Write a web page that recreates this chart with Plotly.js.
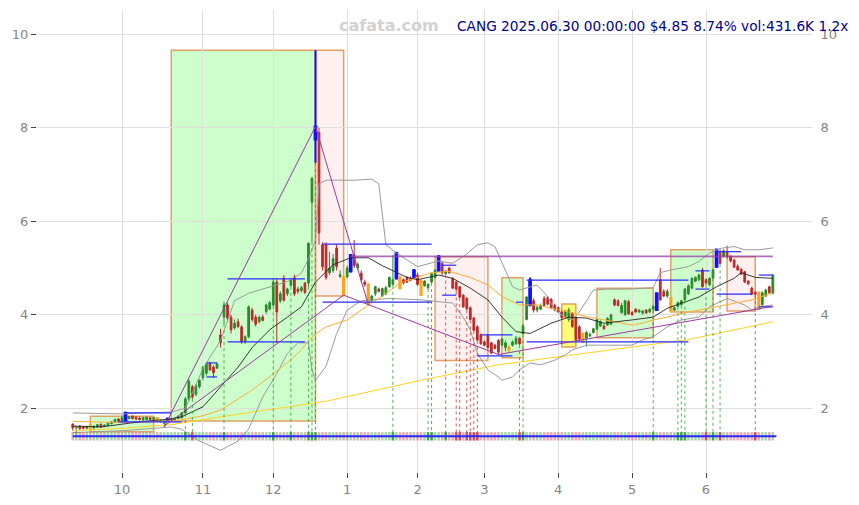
<!DOCTYPE html>
<html><head><meta charset="utf-8">
<script src="https://cdn.plot.ly/plotly-3.0.1.min.js"></script>
<style>html,body{margin:0;padding:0;background:#fff}#chart{width:859px;height:505px}</style>
</head><body><div id="chart"></div>
<script>
// ---- daily candles (trading-day index 0 = 2024-09-11 ... 199 = 2025-06-30) ----
const openP = [
1.66,1.58,1.62,1.60,1.57,1.64,1.58,1.60,1.66,1.61,
1.63,1.67,1.70,1.77,1.72,1.73,1.78,1.83,1.81,1.79,
1.75,1.76,1.80,1.76,1.80,1.72,1.68,1.73,1.75,1.76,
1.78,1.80,1.90,2.20,2.46,2.30,2.46,2.66,2.75,2.96,
2.88,2.86,3.57,3.95,4.21,3.95,3.72,3.85,3.74,3.42,
3.53,4.10,3.95,3.85,3.95,4.07,4.12,4.21,4.70,4.30,
4.78,4.45,4.63,4.80,4.55,4.52,4.68,4.68,6.41,7.75,
7.90,5.50,5.50,4.90,4.95,5.43,4.82,4.81,4.81,4.93,
5.28,5.00,4.89,4.70,4.64,4.30,4.45,4.55,4.40,4.45,
4.60,4.65,4.78,4.81,4.75,4.80,4.78,4.80,4.85,4.73,
4.62,4.58,4.70,4.80,4.94,5.10,4.88,5.00,4.78,4.70,
4.60,4.42,4.35,4.15,3.93,3.74,3.57,3.42,3.56,3.40,
3.35,3.45,3.35,3.30,3.26,3.35,3.38,3.50,3.60,3.90,
4.21,4.30,4.10,4.12,4.35,4.37,4.33,4.20,4.15,4.06,
3.96,3.90,4.03,3.93,3.74,3.42,3.50,3.55,3.62,3.70,
3.76,3.76,3.78,3.80,4.32,4.30,4.05,4.00,4.28,4.05,
4.12,4.06,4.04,4.10,4.06,4.12,4.10,4.75,4.50,4.40,
4.36,4.10,4.18,4.22,4.32,4.45,4.57,4.72,4.75,4.96,
4.75,4.64,4.79,5.03,5.35,5.25,5.35,5.24,5.17,5.04,
4.97,4.92,4.72,4.57,4.48,4.48,4.22,4.40,4.60,4.46];
const highP = [
1.68,1.62,1.64,1.62,1.63,1.67,1.63,1.66,1.67,1.66,
1.70,1.72,1.78,1.79,1.85,1.93,1.84,1.85,1.83,1.82,
1.81,1.82,1.81,1.81,1.81,1.76,1.75,1.80,1.79,1.80,
1.84,1.92,2.24,2.62,2.50,2.52,2.62,2.90,2.98,3.00,
2.92,2.98,3.70,4.28,4.25,4.00,3.90,3.92,3.78,3.56,
4.20,4.15,4.00,3.98,4.00,4.24,4.30,4.78,4.78,4.50,
4.85,4.58,4.76,4.86,4.60,4.62,4.70,5.55,6.95,9.66,
8.00,5.55,5.55,5.35,5.30,5.50,4.95,4.84,5.05,5.30,
5.60,5.12,4.95,4.75,4.68,4.42,4.62,4.58,4.58,4.62,
4.82,5.28,5.35,4.84,4.78,4.83,4.82,4.98,4.90,4.76,
4.74,4.68,4.90,4.98,5.28,5.15,4.96,5.02,4.80,4.72,
4.62,4.44,4.38,4.18,3.96,3.78,3.60,3.45,3.58,3.42,
3.38,3.48,3.50,3.45,3.35,3.45,3.55,3.52,3.80,4.40,
4.80,4.35,4.20,4.24,4.40,4.40,4.36,4.24,4.18,4.08,
4.10,4.15,4.05,3.96,3.78,3.62,3.66,3.62,3.72,3.92,
3.88,3.80,3.95,4.02,4.35,4.33,4.25,4.32,4.32,4.08,
4.14,4.12,4.10,4.12,4.14,4.20,4.48,5.00,4.55,4.55,
4.38,4.18,4.28,4.32,4.58,4.65,4.80,4.82,4.88,5.00,
4.78,4.80,4.98,5.42,5.40,5.40,5.48,5.28,5.20,5.08,
5.00,4.94,4.74,4.60,4.50,4.50,4.50,4.56,4.62,4.87];
const lowP = [
1.52,1.44,1.54,1.55,1.55,1.50,1.56,1.58,1.58,1.60,
1.62,1.66,1.69,1.70,1.70,1.72,1.76,1.76,1.75,1.74,
1.74,1.75,1.75,1.75,1.70,1.69,1.60,1.72,1.74,1.75,
1.77,1.78,1.88,2.15,2.20,2.26,2.42,2.60,2.70,2.80,
2.65,2.84,3.30,3.80,3.85,3.60,3.68,3.72,3.38,3.38,
3.50,3.85,3.75,3.82,3.86,4.02,4.10,4.18,3.40,4.25,
4.28,4.40,4.60,4.40,4.45,4.48,4.44,4.60,5.55,7.25,
5.50,4.95,4.75,4.85,4.90,4.95,4.78,4.40,4.78,4.90,
5.00,4.95,4.70,4.60,4.20,4.28,4.40,4.48,4.38,4.42,
4.58,4.62,4.75,4.55,4.65,4.68,4.72,4.78,4.62,4.40,
4.60,4.55,4.68,4.78,4.92,4.85,4.86,4.88,4.55,4.50,
4.36,4.15,4.10,3.88,3.65,3.44,3.36,3.33,3.28,3.16,
3.26,3.15,3.33,3.22,3.20,3.32,3.36,3.35,3.58,3.88,
4.18,4.05,4.05,4.10,4.18,4.20,4.12,4.08,4.04,3.92,
3.94,3.85,3.72,3.45,3.45,3.40,3.32,3.52,3.60,3.68,
3.74,3.68,3.76,3.78,4.18,4.18,4.02,3.98,4.00,3.98,
4.04,4.04,4.00,4.02,4.04,4.10,4.08,4.30,4.38,4.36,
4.06,4.08,4.16,4.20,4.30,4.42,4.55,4.70,4.72,4.58,
4.64,4.62,4.77,5.00,5.08,5.22,5.20,5.12,5.00,4.94,
4.85,4.68,4.64,4.42,4.42,4.10,4.18,4.38,4.45,4.44];
const closeP = [
1.58,1.60,1.56,1.57,1.61,1.55,1.62,1.65,1.60,1.64,
1.68,1.71,1.76,1.72,1.80,1.90,1.82,1.78,1.77,1.76,
1.80,1.81,1.76,1.80,1.72,1.74,1.74,1.78,1.77,1.79,
1.82,1.90,2.20,2.58,2.24,2.48,2.60,2.88,2.95,2.82,
2.76,2.95,3.40,4.21,3.93,3.68,3.82,3.75,3.42,3.53,
4.17,3.90,3.80,3.95,3.88,4.21,4.26,4.70,4.06,4.45,
4.31,4.55,4.74,4.45,4.50,4.58,4.48,5.53,6.92,8.03,
5.75,5.03,4.80,5.00,5.20,5.03,4.86,4.42,5.00,5.28,
5.05,5.08,4.75,4.65,4.25,4.40,4.60,4.50,4.56,4.58,
4.80,4.75,5.32,4.56,4.68,4.70,4.74,4.95,4.65,4.42,
4.72,4.65,4.88,4.95,5.25,4.90,4.93,4.90,4.57,4.55,
4.38,4.17,4.13,3.90,3.67,3.46,3.38,3.35,3.30,3.18,
3.28,3.20,3.48,3.40,3.30,3.42,3.50,3.38,3.76,4.38,
4.74,4.10,4.16,4.20,4.20,4.23,4.15,4.10,4.06,3.94,
4.08,4.10,3.75,3.47,3.48,3.60,3.62,3.58,3.70,3.90,
3.85,3.70,3.92,4.00,4.21,4.20,4.20,4.30,4.02,4.00,
4.06,4.10,4.08,4.04,4.12,4.18,4.46,4.32,4.40,4.50,
4.08,4.15,4.26,4.30,4.55,4.62,4.78,4.80,4.85,4.60,
4.68,4.78,4.96,5.39,5.10,5.37,5.24,5.15,5.02,4.96,
4.87,4.70,4.66,4.44,4.44,4.12,4.47,4.53,4.47,4.85];

// highlighted candles
const breakoutDays = [15,27,69,79,92,97,104,130,166,183];   // blue candles
const pivotDays    = [5,24,77,84,93,99,124,145,170,195];    // orange candles
const buySignals   = [32,34,43,57,62,67,68,69,91,101,102,127,128,165,172,173,174,180,182,184];
const sellSignals  = [106,109,110,112,113,114,115,194];

// x axis: first trading day of each month
const monthTickIdx  = [14,37,57,78,98,117,138,159,180];
const monthTickText = ['10','11','12','1','2','3','4','5','6'];
const priceTicks = [2,4,6,8,10];

// indicator lines
const maFastIdx = [0,8,14,20,28,31,37,42,47,51,56,61,65,69,74,79,84,88,95,98,104,108,113,118,122,126,130,136,141,146,151,159,165,169,173,178,183,188,190,194,199];
const maFastVal = [1.62,1.60,1.66,1.72,1.77,1.82,2.03,2.45,2.88,3.30,3.68,3.95,4.17,4.70,5.07,5.22,5.22,5.05,4.80,4.75,4.85,4.78,4.57,4.32,3.95,3.64,3.60,3.82,3.95,3.93,3.82,3.89,3.95,4.14,4.25,4.38,4.60,4.78,4.90,4.80,4.78];
const maMidIdx = [0,10,20,30,37,42,51,56,61,65,68,72,78,82,88,93,98,102,107,113,118,122,127,132,136,141,146,151,155,159,162,165,169,173,178,183,188,193,197,199];
const maMidVal = [1.72,1.70,1.70,1.74,1.84,1.96,2.39,2.67,2.97,3.25,3.53,3.74,3.89,4.10,4.40,4.68,4.81,4.90,4.93,4.80,4.64,4.39,4.21,4.21,4.14,4.06,3.96,3.89,3.82,3.78,3.82,3.89,3.95,4.03,4.10,4.17,4.25,4.32,4.42,4.46];
const maSlowIdx = [0,14,28,45,72,99,121,150,175,199];
const maSlowVal = [1.52,1.57,1.65,1.85,2.15,2.60,2.93,3.22,3.47,3.85];
const bandUpIdx = [0,14,28,32,35,37,42,46,50,56,61,65,67,69,70,72,80,85,87,89,92,98,104,108,112,115,118,120,122,125,127,130,132,135,137,140,142,144,148,152,158,165,167,170,175,178,181,184,188,191,195,199];
const bandUpVal = [1.90,1.88,1.92,2.00,2.50,2.85,3.45,4.30,4.46,4.60,4.71,4.89,5.20,5.60,6.80,6.88,6.88,6.90,6.80,5.50,5.32,5.03,5.15,5.10,5.30,5.50,5.54,5.46,5.10,4.60,4.53,4.60,4.64,4.39,4.10,3.95,3.89,4.06,4.53,4.55,4.55,4.58,4.90,4.96,5.03,5.14,5.32,5.42,5.46,5.39,5.39,5.43];
const bandLoIdx = [0,14,28,31,36,42,47,50,54,58,61,64,67,68,69,72,75,78,82,90,99,104,108,111,113,115,118,121,122,125,127,130,133,137,140,142,146,151,155,159,162,165,169,173,178,181,186,191,193,195,199];
const bandLoVal = [1.48,1.52,1.60,1.55,1.30,1.10,1.30,1.56,2.24,2.74,3.17,3.40,3.40,2.82,2.60,2.90,3.60,4.10,4.30,4.35,4.32,4.28,4.25,3.95,3.68,3.18,2.82,2.67,2.60,2.67,2.82,2.97,2.93,3.03,3.14,3.25,3.35,3.35,3.35,3.35,3.46,3.53,3.74,3.89,3.95,4.17,4.35,4.21,4.10,4.17,4.21];

// zones: start, end, top, bottom, kind
const zoneStart  = [5,28,69,103,122,139,149,170,186];
const zoneEnd    = [23,69,77,118,128,143,165,182,194];
const zoneTop    = [1.83,9.66,9.66,5.24,4.79,4.23,4.57,5.39,5.24];
const zoneBottom = [1.50,1.73,4.40,3.02,3.08,3.31,3.51,4.06,4.08];
const zoneKind   = ['up','up','down','down','up','flat','up','up','down'];

// support / resistance levels
const levelStart = [13,15,38,38,44,44,71,71,105,105,116,115,126,129,129,177,177,183,183,195,195];
const levelEnd   = [31,28,41,41,66,66,102,102,109,109,125,125,128,175,175,181,181,190,193,199,199];
const levelValue = [1.71,1.90,2.97,2.67,4.77,3.42,5.51,4.27,5.06,4.42,3.57,3.12,4.27,4.74,3.42,4.94,4.55,5.35,4.44,4.85,4.17];

// trend lines (pivot to pivot)
const trendX0 = [26,26,69,77,121];
const trendY0 = [1.60,1.62,8.03,4.42,3.15];
const trendX1 = [69,77,84,121,199];
const trendY1 = [8.03,4.42,4.22,3.15,4.18];
const ceilingStart = 79, ceilingEnd = 199, ceilingValue = 5.25;
const stripLevel = 1.40;

// ---------------- build ----------------
const N = closeP.length;
const idx = closeP.map((_, i) => i);
const isBlue = new Set(breakoutDays), isOrange = new Set(pivotDays);
function pick(cond){
  const s = {x:[],open:[],high:[],low:[],close:[]};
  idx.forEach(i => { if (cond(i)) { s.x.push(i); s.open.push(openP[i]); s.high.push(highP[i]); s.low.push(lowP[i]); s.close.push(closeP[i]); } });
  return s;
}
function candle(s, up, dn, w){
  return Object.assign({type:'candlestick', whiskerwidth:0, hoverinfo:'skip', showlegend:false,
    increasing:{line:{color:up,width:w}, fillcolor:up},
    decreasing:{line:{color:dn,width:w}, fillcolor:dn}}, s);
}
const GREEN = '#2b8a2b', RED = '#bb2a2a';
const traces = [];
function line(x, y, color, w){ traces.push({type:'scatter', mode:'lines', x:x, y:y, line:{color:color, width:w}, hoverinfo:'skip', showlegend:false}); }
line(maSlowIdx, maSlowVal, '#ffd21f', 1);
line(bandUpIdx, bandUpVal, '#9a9a9a', 1);
line(bandLoIdx, bandLoVal, '#9a9a9a', 1);
line(maMidIdx, maMidVal, '#ffad33', 1);
line(maFastIdx, maFastVal, '#222222', 0.9);

traces.push(candle(pick(i => !isBlue.has(i) && !isOrange.has(i)), GREEN, RED, 1));
traces.push(candle(pick(i => isBlue.has(i)), '#1010ff', '#1010ff', 2));
traces.push(candle(pick(i => isOrange.has(i)), '#ffa31a', '#ffa31a', 1.5));

// activity strip
const sig = new Set(buySignals.concat(sellSignals));
traces.push({type:'scatter', mode:'markers', x:idx, y:idx.map(() => stripLevel), hoverinfo:'skip', showlegend:false,
  marker:{symbol:'line-ns', size:6, line:{width:2.6, color: idx.map(i => {
    const up = closeP[i] >= openP[i]; const a = sig.has(i) ? 0.85 : 0.4;
    return up ? 'rgba(40,150,40,'+a+')' : 'rgba(200,50,70,'+a+')'; })}}});
// right-side price axis carrier
traces.push({type:'scatter', mode:'markers', x:[0], y:[5], yaxis:'y2', marker:{opacity:0}, hoverinfo:'skip', showlegend:false});

const shapes = [];
const zoneFill = {up:'rgba(0,255,0,0.2)', down:'rgba(255,0,0,0.06)', flat:'rgba(255,255,0,0.55)'};
zoneStart.forEach((s, k) => shapes.push({type:'rect', layer:'below', xref:'x', yref:'y', x0:s, x1:zoneEnd[k], y0:zoneBottom[k], y1:zoneTop[k],
  fillcolor: zoneFill[zoneKind[k]], line:{color:'#e3a066', width:1.5}}));
buySignals.forEach(i => shapes.push({type:'line', xref:'x', yref:'y', x0:i, x1:i, y0:lowP[i], y1:stripLevel, line:{color:'rgba(40,160,40,0.8)', width:1, dash:'dot'}}));
sellSignals.forEach(i => shapes.push({type:'line', xref:'x', yref:'y', x0:i, x1:i, y0:lowP[i], y1:stripLevel, line:{color:'rgba(210,50,50,0.8)', width:1, dash:'dot'}}));
levelStart.forEach((s, k) => shapes.push({type:'line', xref:'x', yref:'y', x0:s, x1:levelEnd[k], y0:levelValue[k], y1:levelValue[k], line:{color:'#2a2aff', width:1.2}}));
trendX0.forEach((s, k) => shapes.push({type:'line', xref:'x', yref:'y', x0:s, x1:trendX1[k], y0:trendY0[k], y1:trendY1[k], line:{color:'#9a3aa0', width:1}}));
shapes.push({type:'line', xref:'x', yref:'y', x0:ceilingStart, x1:ceilingEnd, y0:ceilingValue, y1:ceilingValue, line:{color:'rgba(150,60,170,0.75)', width:1.8}});
shapes.push({type:'line', xref:'x', yref:'y', x0:0, x1:N, y0:stripLevel, y1:stripLevel, line:{color:'#2a2aff', width:2}});

const yRange = [0.637, 10.52];
const tickFont = {family:'DejaVu Sans', size:13, color:'#858585'};
const layout = {
  width:859, height:505,
  margin:{l:37, r:47, t:10, b:33, pad:0},
  paper_bgcolor:'#ffffff', plot_bgcolor:'#ffffff',
  font:{family:'DejaVu Sans', size:13, color:'#858585'},
  showlegend:false,
  xaxis:{range:[-10.16, 210.13], tickmode:'array', tickvals:monthTickIdx, ticktext:monthTickText,
    showgrid:true, gridcolor:'#dedede', gridwidth:1, ticks:'outside', ticklen:5, tickcolor:'#444',
    zeroline:false, showline:false, rangeslider:{visible:false}, tickfont:tickFont, fixedrange:true},
  yaxis:{range:yRange, tickmode:'array', tickvals:priceTicks, showgrid:true, gridcolor:'#dedede', gridwidth:1,
    ticks:'outside', ticklen:5, tickcolor:'#444', zeroline:false, showline:false, tickfont:tickFont},
  yaxis2:{overlaying:'y', side:'right', range:yRange, tickmode:'array', tickvals:priceTicks, showgrid:false,
    zeroline:false, showline:false, ticks:'outside', ticklen:5, tickcolor:'rgba(0,0,0,0)', tickfont:tickFont},
  shapes:shapes,
  annotations:[
    {xref:'paper', yref:'paper', x:0.454, y:0.9654, xanchor:'center', yanchor:'middle', showarrow:false,
     text:'<b>cafata.com</b>', font:{family:'DejaVu Sans', size:16, color:'#d2d2d2'}},
    {xref:'paper', yref:'paper', x:0.5394, y:0.9654, xanchor:'left', yanchor:'middle', showarrow:false,
     text:'CANG 2025.06.30 00:00:00 $4.85 8.74% vol:431.6K 1.2x', font:{family:'DejaVu Sans', size:13.7, color:'#00008b'}}
  ]
};
Plotly.newPlot('chart', traces, layout, {displayModeBar:false, staticPlot:true});
</script>
</body></html>
